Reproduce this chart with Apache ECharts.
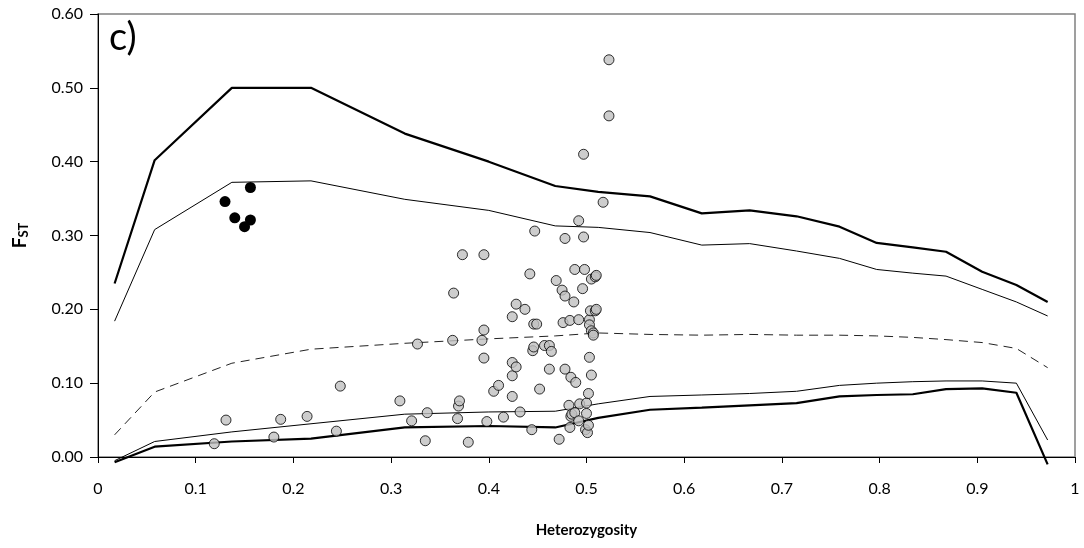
<!DOCTYPE html>
<html>
<head>
<meta charset="utf-8">
<script src="https://cdn.jsdelivr.net/npm/echarts@6/dist/echarts.min.js"></script>
<style>html,body{margin:0;padding:0;background:#fff}#c{width:1084px;height:548px}</style>
</head>
<body>
<div id="c"></div>
<script>
// Heterozygosity grid shared by the simulated envelope lines
const hetX = [0.017, 0.058, 0.137, 0.218, 0.314, 0.40, 0.468, 0.512, 0.565, 0.618, 0.667, 0.715, 0.759, 0.797, 0.834, 0.868, 0.905, 0.940, 0.972];
// Upper 99% quantile (thick)
const upper99 = [0.235, 0.402, 0.500, 0.500, 0.438, 0.400, 0.367, 0.359, 0.353, 0.330, 0.334, 0.326, 0.312, 0.290, 0.284, 0.278, 0.251, 0.233, 0.210];
// Upper 95% quantile (thin)
const upper95 = [0.184, 0.308, 0.372, 0.374, 0.349, 0.334, 0.313, 0.311, 0.304, 0.287, 0.289, 0.279, 0.269, 0.254, 0.249, 0.245, 0.227, 0.210, 0.191];
// Median (dashed)
const median = [0.030, 0.088, 0.127, 0.146, 0.154, 0.160, 0.164, 0.168, 0.166, 0.165, 0.166, 0.165, 0.165, 0.164, 0.162, 0.159, 0.155, 0.147, 0.121];
// Lower 95% quantile (thin)
const lower95 = [-0.005, 0.021, 0.034, 0.045, 0.058, 0.061, 0.062, 0.072, 0.082, 0.084, 0.086, 0.089, 0.097, 0.100, 0.102, 0.103, 0.103, 0.100, 0.023];
// Lower 99% quantile (thick)
const lower99 = [-0.007, 0.014, 0.021, 0.025, 0.040, 0.042, 0.040, 0.053, 0.064, 0.067, 0.070, 0.073, 0.082, 0.084, 0.085, 0.092, 0.093, 0.087, -0.010];

// Outlier loci (black)
const outliers = [[0.130, 0.346], [0.156, 0.365], [0.140, 0.324], [0.156, 0.321], [0.150, 0.312]];

// Other loci (grey)
const loci = [
  [0.119,0.018],[0.131,0.050],[0.180,0.027],[0.187,0.051],[0.214,0.055],[0.244,0.035],[0.248,0.096],
  [0.309,0.076],[0.321,0.049],[0.327,0.153],[0.335,0.022],[0.337,0.060],
  [0.363,0.158],[0.364,0.222],[0.368,0.052],[0.369,0.069],[0.370,0.076],[0.373,0.274],[0.379,0.020],
  [0.393,0.158],[0.395,0.172],[0.395,0.134],[0.395,0.274],[0.398,0.048],
  [0.405,0.089],[0.410,0.097],[0.415,0.054],[0.424,0.082],[0.424,0.110],[0.424,0.128],[0.428,0.122],
  [0.424,0.190],[0.428,0.207],[0.432,0.061],[0.437,0.200],
  [0.442,0.248],[0.444,0.037],[0.445,0.144],[0.446,0.149],[0.446,0.180],[0.449,0.180],[0.447,0.306],[0.452,0.092],
  [0.457,0.151],[0.462,0.151],[0.464,0.143],[0.462,0.119],[0.469,0.239],[0.472,0.024],
  [0.475,0.226],[0.476,0.182],[0.478,0.119],[0.478,0.218],[0.478,0.296],
  [0.482,0.070],[0.483,0.040],[0.484,0.055],[0.484,0.108],[0.483,0.185],[0.485,0.058],
  [0.487,0.210],[0.488,0.254],[0.488,0.060],[0.489,0.101],
  [0.492,0.186],[0.492,0.049],[0.492,0.320],[0.493,0.072],[0.496,0.228],[0.497,0.298],[0.497,0.410],[0.498,0.254],
  [0.500,0.073],[0.500,0.059],[0.499,0.037],[0.501,0.033],[0.502,0.086],[0.502,0.043],[0.503,0.135],[0.503,0.186],
  [0.503,0.179],[0.504,0.198],[0.505,0.241],[0.505,0.111],[0.505,0.171],[0.507,0.168],[0.507,0.165],
  [0.509,0.244],[0.509,0.198],[0.510,0.246],[0.510,0.200],
  [0.517,0.345],[0.523,0.462],[0.523,0.538]
];

const xTicks = ['0','0.1','0.2','0.3','0.4','0.5','0.6','0.7','0.8','0.9','1'];
const yTicks = ['0.00','0.10','0.20','0.30','0.40','0.50','0.60'];

const FONT = 'Lato, "Noto Sans", sans-serif';
const pair = arr => hetX.map((x, i) => [x, arr[i]]);
const lineSeries = (data, width, dashed) => ({
  type: 'line', data: pair(data), symbol: 'none', clip: false, z: 2,
  lineStyle: { color: dashed ? '#222' : '#000', width: width, type: dashed ? [9, 6] : 'solid' },
  animation: false
});

const chart = echarts.init(document.getElementById('c'), null, { renderer: 'canvas' });
chart.setOption({
  animation: false,
  backgroundColor: '#fff',
  title: {
    text: 'c)', left: 104, top: 14,
    textStyle: { fontFamily: FONT, fontSize: 38, fontWeight: 'normal', color: '#000' }
  },
  grid: { left: 98, right: 9, top: 14, bottom: 91, show: true, borderColor: '#808080', borderWidth: 1.5, backgroundColor: 'transparent' },
  xAxis: {
    type: 'value', min: 0, max: 1, interval: 0.1,
    name: 'Heterozygosity', nameLocation: 'middle', nameGap: 66,
    nameTextStyle: { fontFamily: FONT, fontSize: 15, fontWeight: 'bold', color: '#000' },
    axisLine: { show: true, onZero: false, lineStyle: { color: '#000', width: 1 } },
    axisTick: { show: true, length: 6, inside: false, lineStyle: { color: '#000' } },
    axisLabel: { fontFamily: FONT, fontSize: 16, color: '#000', margin: 24,
      formatter: v => xTicks[Math.round(v * 10)] },
    splitLine: { show: false }
  },
  yAxis: {
    type: 'value', min: 0, max: 0.6, interval: 0.1,
    name: '{f|F}{s|ST}', nameLocation: 'middle', nameGap: 68, nameRotate: 90,
    nameTextStyle: { rich: {
      f: { fontFamily: FONT, fontSize: 19, fontWeight: 'bold', color: '#000' },
      s: { fontFamily: FONT, fontSize: 13, fontWeight: 'bold', color: '#000', verticalAlign: 'bottom', padding: [7, 0, 0, 0] }
    } },
    axisLine: { show: true, onZero: false, lineStyle: { color: '#000', width: 1 } },
    axisTick: { show: true, length: 8, inside: false, lineStyle: { color: '#000' } },
    axisLabel: { fontFamily: FONT, fontSize: 16, color: '#000', margin: 15,
      formatter: v => yTicks[Math.round(v * 10)] },
    splitLine: { show: false }
  },
  series: [
    lineSeries(upper99, 2.2, false),
    lineSeries(upper95, 1, false),
    lineSeries(median, 1, true),
    lineSeries(lower95, 1, false),
    lineSeries(lower99, 2.2, false),
    {
      type: 'scatter', data: loci, symbol: 'circle', symbolSize: 10, z: 3,
      itemStyle: { color: '#c0c0c0', borderColor: '#000', borderWidth: 1 }
    },
    {
      type: 'scatter', data: outliers, symbol: 'circle', symbolSize: 11, z: 3,
      itemStyle: { color: '#000', opacity: 1 }
    }
  ]
});
</script>
</body>
</html>
